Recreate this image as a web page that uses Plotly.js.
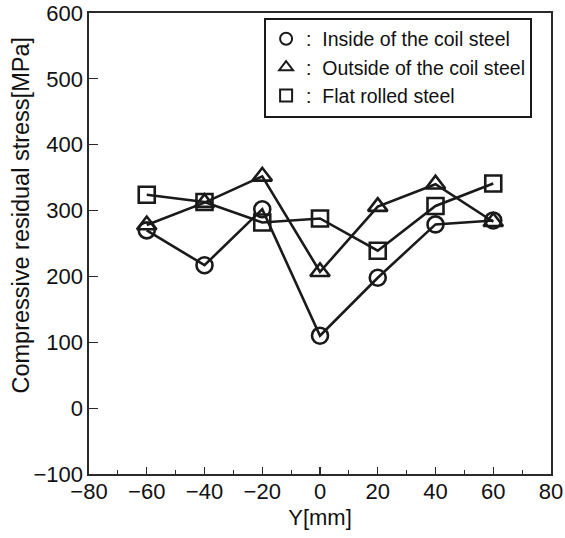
<!DOCTYPE html>
<html>
<head>
<meta charset="utf-8">
<script src="https://cdn.plot.ly/plotly-3.0.1.min.js"></script>
<style>html,body{margin:0;padding:0;background:#fff;}#chart{width:565px;height:538px;}</style>
</head>
<body>
<div id="chart"></div>
<script>
const positions = [-60, -40, -20, 0, 20, 40, 60];
const insideCoil = [270, 217, 302, 110, 198, 279, 285];
const outsideCoil = [278, 312, 352, 207, 306, 340, 283];
const flatRolled = [324, 313, 282, 288, 239, 307, 341];
const seriesNames = [':\u00a0\u00a0Inside of the coil steel', ':\u00a0\u00a0Outside of the coil steel', ':\u00a0\u00a0Flat rolled steel'];
const xTickVals = [-80, -60, -40, -20, 0, 20, 40, 60, 80];
const yTickVals = [-100, 0, 100, 200, 300, 400, 500, 600];
const xTitle = 'Y[mm]';
const yTitle = 'Compressive residual stress[MPa]';

const ink = '#1a1a1a';
const axisInk = '#2a2a2a';
const symbols = ['circle-open', 'triangle-up-open', 'square-open'];
const sizes = [16, 17, 16];
const seriesData = [insideCoil, outsideCoil, flatRolled];

const traces = [];
seriesData.forEach((ys, i) => {
  traces.push({
    x: positions, y: ys, type: 'scatter', mode: 'lines+markers',
    line: {color: ink, width: 2.6},
    marker: {symbol: symbols[i], size: sizes[i], color: ink, line: {width: 2.6, color: ink}},
    showlegend: false, hoverinfo: 'skip'
  });
});
seriesData.forEach((ys, i) => {
  traces.push({
    x: [null], y: [null], type: 'scatter', mode: 'markers', name: seriesNames[i],
    marker: {symbol: symbols[i], size: 14, color: ink, line: {width: 2.6, color: ink}},
    showlegend: true
  });
});

const fam = '"Liberation Sans", Arial, sans-serif';
const txt = '#111';
const layout = {
  width: 565, height: 538,
  margin: {l: 89, r: 14, t: 13, b: 64},
  paper_bgcolor: '#fff', plot_bgcolor: '#fff',
  font: {family: fam, size: 22, color: txt},
  showlegend: true,
  legend: {
    x: 0.379, y: 0.99, xanchor: 'left', yanchor: 'top',
    bgcolor: '#fff', bordercolor: ink, borderwidth: 2,
    font: {family: fam, size: 19.5, color: txt},
    itemsizing: 'constant', tracegroupgap: 0
  },
  xaxis: {
    range: [-80, 80], tickvals: xTickVals, ticks: 'inside', ticklen: 7, tickwidth: 1.2, tickcolor: axisInk,
    showline: true, mirror: true, linecolor: axisInk, linewidth: 1.6, showgrid: false, zeroline: false,
    minor: {dtick: 10, tick0: 0, ticks: 'inside', ticklen: 4, tickwidth: 1, tickcolor: axisInk, showgrid: false},
    title: {text: xTitle, font: {family: fam, size: 22, color: txt}, standoff: 6},
    tickfont: {family: fam, size: 22, color: txt},
    ticklabelstandoff: -3
  },
  yaxis: {
    range: [-100, 600], tickvals: yTickVals, ticks: 'inside', ticklen: 9, tickwidth: 1.2, tickcolor: axisInk,
    showline: true, mirror: true, linecolor: axisInk, linewidth: 1.6, showgrid: false, zeroline: false,
    tickfont: {family: fam, size: 22, color: txt}
  },
  annotations: [{
    text: yTitle, xref: 'paper', yref: 'paper', x: -0.148, y: 0.562,
    xanchor: 'center', yanchor: 'middle', textangle: -90, showarrow: false,
    font: {family: fam, size: 23.5, color: txt}
  }]
};

Plotly.newPlot('chart', traces, layout, {displayModeBar: false, staticPlot: true});
</script>
</body>
</html>
